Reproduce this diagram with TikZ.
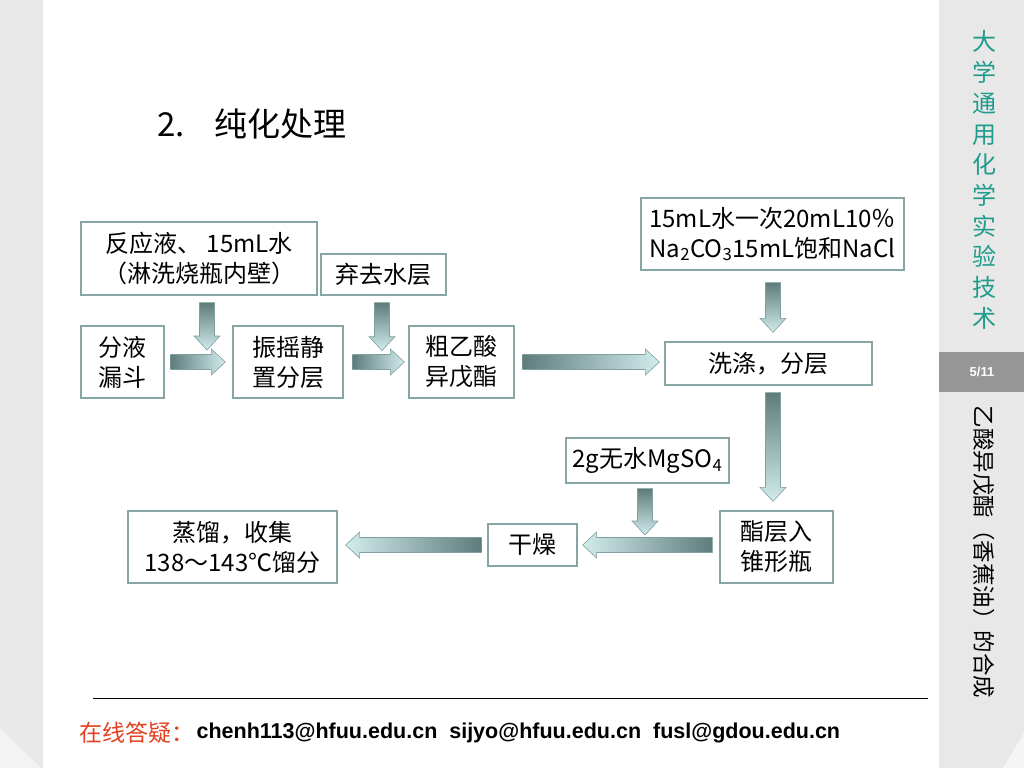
\documentclass[tikz,border=0pt]{standalone}
\usepackage{fontspec}
\setmainfont{Noto Sans CJK SC}
\newfontfamily\emailfont{Liberation Sans}
\usetikzlibrary{calc}
\definecolor{stripgray}{HTML}{E8E8E8}
\definecolor{stripgrayl}{HTML}{F3F3F3}
\definecolor{pagebox}{HTML}{969696}
\definecolor{tealtext}{HTML}{1E9C8C}
\definecolor{boxline}{HTML}{86A6A6}
\definecolor{adark}{HTML}{5E7C7C}
\definecolor{alight}{HTML}{D2ECEC}
\definecolor{aline}{HTML}{7FA0A0}
\definecolor{footred}{HTML}{E2401E}
\newcommand\rarr[2]{\shade[blockarrow, left color=adark, right color=alight] let \p1=(#1), \p2=(#2) in
  (\x1,\y1+7.5pt) -- (\x2-14pt,\y1+7.5pt) -- (\x2-14pt,\y1+13pt) -- (\x2,\y1) -- (\x2-14pt,\y1-13pt) -- (\x2-14pt,\y1-7.5pt) -- (\x1,\y1-7.5pt) -- cycle;}
\newcommand\larr[2]{\shade[blockarrow, left color=alight, right color=adark] let \p1=(#1), \p2=(#2) in
  (\x1,\y1+7.5pt) -- (\x2+14pt,\y1+7.5pt) -- (\x2+14pt,\y1+13pt) -- (\x2,\y1) -- (\x2+14pt,\y1-13pt) -- (\x2+14pt,\y1-7.5pt) -- (\x1,\y1-7.5pt) -- cycle;}
\newcommand\darr[2]{\shade[blockarrow, top color=adark, bottom color=alight] let \p1=(#1), \p2=(#2) in
  (\x1-7.5pt,\y1) -- (\x1-7.5pt,\y2+14pt) -- (\x1-13pt,\y2+14pt) -- (\x1,\y2) -- (\x1+13pt,\y2+14pt) -- (\x1+7.5pt,\y2+14pt) -- (\x1+7.5pt,\y1) -- cycle;}
\begin{document}
\begin{tikzpicture}[x=1pt,y=-1pt,
  box/.style={draw=boxline, line width=1.3pt, fill=white, inner sep=0pt, align=center, font=\fontsize{24}{30}\selectfont},
  blockarrow/.style={draw=aline, line width=0.6pt}]
\useasboundingbox (0,0) rectangle (1024,768);
% background strips
\fill[white] (0,0) rectangle (1024,768);
\fill[stripgray] (0,0) rectangle (43,768);
\fill[stripgrayl] (0,728) -- (41,768) -- (0,768) -- cycle;
\fill[stripgray] (939,0) rectangle (1024,768);
\fill[white!96!black] (1024,733) -- (1024,768) -- (1003,768) -- cycle;
\fill[pagebox] (939,352) rectangle (1024,392);
\node[text=white, font=\emailfont\bfseries\fontsize{13}{13}\selectfont] (page) at (982,372) {5/11};
\node[align=center, text=tealtext, inner sep=0pt, font=\fontsize{24}{30.7}\selectfont] (side1) at (984,180) {大\\学\\通\\用\\化\\学\\实\\验\\技\\术};
\node[rotate=-90, inner sep=0pt, font=\fontsize{22.5}{22.5}\selectfont] (side2) at (984,552) {乙酸异戊酯（香蕉油）的合成};
% title
\node[anchor=west, inner sep=0pt, font=\fontsize{33}{33}\selectfont] (title) at (157,124) {2.\hspace{0.9em}纯化处理};
% boxes
\node[box, minimum width=236, minimum height=73] (b1) at (199,258.5) {反应液、 15mL水\\（淋洗烧瓶内壁）};
\node[box, minimum width=125, minimum height=41] (b2) at (383.5,274.5) {弃去水层};
\node[box, minimum width=83, minimum height=72] (b3) at (122.5,362) {分液\\漏斗};
\node[box, minimum width=110, minimum height=72] (b4) at (288,362) {振摇静\\置分层};
\node[box, minimum width=105, minimum height=72] (b5) at (461.5,362) {粗乙酸\\异戊酯};
\node[box, minimum width=263, minimum height=72] (b6) at (772.5,234) {15mL水一次20mL10％\\Na\textsubscript{2}CO\textsubscript{3}15mL饱和NaCl};
\node[box, minimum width=207, minimum height=43] (b7) at (768.5,363.5) {洗涤，分层};
\node[box, minimum width=163, minimum height=45] (b8) at (647.5,460.5) {2g无水MgSO\textsubscript{4}};
\node[box, minimum width=113, minimum height=72] (b9) at (776.5,547) {酯层入\\锥形瓶};
\node[box, minimum width=89, minimum height=42] (b10) at (532.5,545) {干燥};
\node[box, minimum width=209, minimum height=72] (b11) at (232.5,547) {蒸馏，收集\\138～143℃馏分};
% arrow end points
\coordinate (a1s) at ($(b3.east)+(6,0)$);
\coordinate (a1e) at ($(b4.west)+(-7,0)$);
\coordinate (a2s) at ($(b4.east)+(9,0)$);
\coordinate (a2e) at ($(b5.west)+(-4,0)$);
\coordinate (a3s) at ($(b5.east)+(8,0)$);
\coordinate (a3e) at ($(b7.west)+(-5,-1.5)$);
\coordinate (d1s) at ($(b1.south)+(8,7)$);
\coordinate (d1e) at ($(b4.west)+(-26,-12)$);
\coordinate (d2s) at ($(b2.south)+(-1.5,7)$);
\coordinate (d2e) at ($(b2.south)+(-1.5,55)$);
\coordinate (d3s) at ($(b6.south)+(0.5,12)$);
\coordinate (d3e) at ($(b7.north)+(4.5,-9)$);
\coordinate (d4s) at ($(b7.south)+(4.5,7)$);
\coordinate (d4e) at ($(b9.north)+(-3.5,-9)$);
\coordinate (d5s) at ($(b8.south)+(-2.5,5)$);
\coordinate (d5e) at ($(b10.east)+(68,-10)$);
\coordinate (a4s) at ($(b9.west)+(-7,-2)$);
\coordinate (a4e) at ($(b10.east)+(5,0)$);
\coordinate (a5s) at ($(b10.west)+(-6,0)$);
\coordinate (a5e) at ($(b11.east)+(8,-2)$);
\rarr{a1s}{a1e}
\rarr{a2s}{a2e}
\rarr{a3s}{a3e}
\darr{d1s}{d1e}
\darr{d2s}{d2e}
\darr{d3s}{d3e}
\darr{d4s}{d4e}
\darr{d5s}{d5e}
\larr{a4s}{a4e}
\larr{a5s}{a5e}
% footer
\coordinate (l1) at (93,698);
\coordinate (l2) at (928,698);
\draw[line width=1pt] (l1) -- (l2);
\node[anchor=west, inner sep=0pt, text=footred, font=\fontsize{23}{23}\selectfont] (f1) at (79,733) {在线答疑：};
\node[anchor=west, inner sep=0pt, font=\emailfont\bfseries\fontsize{21.5}{21.5}\selectfont] (f2) at ($(f1.east)+(2,0)$) {chenh113@hfuu.edu.cn\ \ sijyo@hfuu.edu.cn\ \ fusl@gdou.edu.cn};
\end{tikzpicture}
\end{document}
